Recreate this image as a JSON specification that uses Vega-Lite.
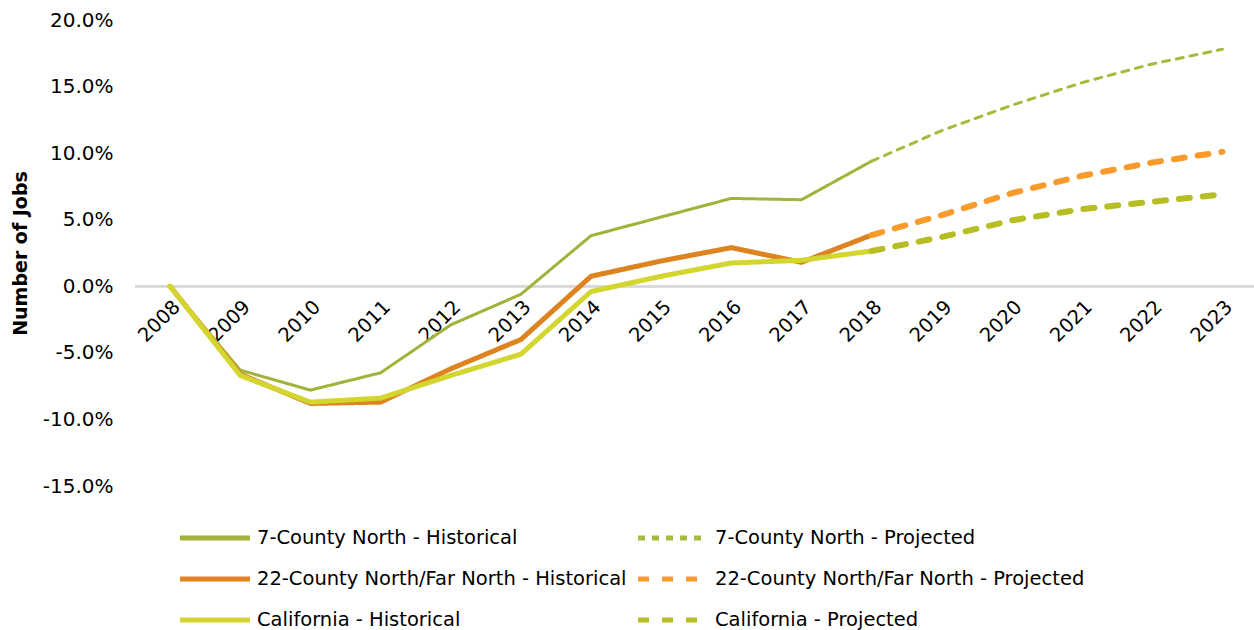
{
  "$schema": "https://vega.github.io/schema/vega-lite/v6.json",
  "width": 1119,
  "height": 466,
  "autosize": "none",
  "padding": {"left": 135, "top": 20, "right": 0, "bottom": 144},
  "background": "white",
  "config": {
    "view": {"stroke": null},
    "font": "DejaVu Sans",
    "axis": {"labelFont": "DejaVu Sans", "titleFont": "DejaVu Sans", "labelColor": "#000000", "titleColor": "#000000"},
    "legend": {"labelFont": "DejaVu Sans", "labelColor": "#000000"}
  },
  "data": {
    "values": [
      {"year": 2008, "value": 0, "series": "7-County North - Historical"},
      {"year": 2009, "value": -0.063, "series": "7-County North - Historical"},
      {"year": 2010, "value": -0.078, "series": "7-County North - Historical"},
      {"year": 2011, "value": -0.065, "series": "7-County North - Historical"},
      {"year": 2012, "value": -0.029, "series": "7-County North - Historical"},
      {"year": 2013, "value": -0.006, "series": "7-County North - Historical"},
      {"year": 2014, "value": 0.038, "series": "7-County North - Historical"},
      {"year": 2015, "value": 0.052, "series": "7-County North - Historical"},
      {"year": 2016, "value": 0.066, "series": "7-County North - Historical"},
      {"year": 2017, "value": 0.065, "series": "7-County North - Historical"},
      {"year": 2018, "value": 0.094, "series": "7-County North - Historical"},
      {"year": 2018, "value": 0.094, "series": "7-County North - Projected"},
      {"year": 2019, "value": 0.117, "series": "7-County North - Projected"},
      {"year": 2020, "value": 0.136, "series": "7-County North - Projected"},
      {"year": 2021, "value": 0.153, "series": "7-County North - Projected"},
      {"year": 2022, "value": 0.167, "series": "7-County North - Projected"},
      {"year": 2023, "value": 0.178, "series": "7-County North - Projected"},
      {"year": 2008, "value": 0, "series": "22-County North/Far North - Historical"},
      {"year": 2009, "value": -0.066, "series": "22-County North/Far North - Historical"},
      {"year": 2010, "value": -0.088, "series": "22-County North/Far North - Historical"},
      {"year": 2011, "value": -0.087, "series": "22-County North/Far North - Historical"},
      {"year": 2012, "value": -0.062, "series": "22-County North/Far North - Historical"},
      {"year": 2013, "value": -0.040, "series": "22-County North/Far North - Historical"},
      {"year": 2014, "value": 0.0075, "series": "22-County North/Far North - Historical"},
      {"year": 2015, "value": 0.019, "series": "22-County North/Far North - Historical"},
      {"year": 2016, "value": 0.029, "series": "22-County North/Far North - Historical"},
      {"year": 2017, "value": 0.018, "series": "22-County North/Far North - Historical"},
      {"year": 2018, "value": 0.0385, "series": "22-County North/Far North - Historical"},
      {"year": 2018, "value": 0.0385, "series": "22-County North/Far North - Projected"},
      {"year": 2019, "value": 0.0535, "series": "22-County North/Far North - Projected"},
      {"year": 2020, "value": 0.070, "series": "22-County North/Far North - Projected"},
      {"year": 2021, "value": 0.083, "series": "22-County North/Far North - Projected"},
      {"year": 2022, "value": 0.093, "series": "22-County North/Far North - Projected"},
      {"year": 2023, "value": 0.101, "series": "22-County North/Far North - Projected"},
      {"year": 2008, "value": 0, "series": "California - Historical"},
      {"year": 2009, "value": -0.067, "series": "California - Historical"},
      {"year": 2010, "value": -0.087, "series": "California - Historical"},
      {"year": 2011, "value": -0.084, "series": "California - Historical"},
      {"year": 2012, "value": -0.067, "series": "California - Historical"},
      {"year": 2013, "value": -0.051, "series": "California - Historical"},
      {"year": 2014, "value": -0.004, "series": "California - Historical"},
      {"year": 2015, "value": 0.0075, "series": "California - Historical"},
      {"year": 2016, "value": 0.0175, "series": "California - Historical"},
      {"year": 2017, "value": 0.0195, "series": "California - Historical"},
      {"year": 2018, "value": 0.0265, "series": "California - Historical"},
      {"year": 2018, "value": 0.0265, "series": "California - Projected"},
      {"year": 2019, "value": 0.037, "series": "California - Projected"},
      {"year": 2020, "value": 0.0495, "series": "California - Projected"},
      {"year": 2021, "value": 0.058, "series": "California - Projected"},
      {"year": 2022, "value": 0.0635, "series": "California - Projected"},
      {"year": 2023, "value": 0.069, "series": "California - Projected"}
    ]
  },
  "layer": [
    {
      "mark": {"type": "rule", "color": "#D9D9D9", "strokeWidth": 2},
      "encoding": {"y": {"datum": 0, "type": "quantitative"}}
    },
    {
      "encoding": {
        "x": {
          "field": "year",
          "type": "quantitative",
          "scale": {"domain": [2007.5, 2023.45], "nice": false, "zero": false},
          "axis": {
            "values": [2008, 2009, 2010, 2011, 2012, 2013, 2014, 2015, 2016, 2017, 2018, 2019, 2020, 2021, 2022, 2023],
            "format": "d",
            "title": null,
            "domain": false,
            "ticks": false,
            "grid": false,
            "labelAngle": -45,
            "labelFontSize": 19.5,
            "labelPadding": 11,
            "offset": -200,
            "labelOverlap": false,
            "labelBound": false,
            "labelFlush": false
          }
        },
        "y": {
          "field": "value",
          "type": "quantitative",
          "scale": {"domain": [-0.15, 0.20], "nice": false},
          "axis": {
            "values": [-0.15, -0.10, -0.05, 0, 0.05, 0.10, 0.15, 0.20],
            "labelExpr": "replace(format(datum.value, '.1%'), '\u2212', '-')",
            "title": "Number of Jobs",
            "titleFontSize": 19,
            "titleFontWeight": "bold",
            "titleX": -115,
            "titleBaseline": "middle",
            "domain": false,
            "ticks": false,
            "grid": false,
            "labelFontSize": 20,
            "labelPadding": 22,
            "labelOverlap": false,
            "labelFlush": false
          }
        },
        "color": {
          "field": "series",
          "type": "nominal",
          "scale": {
            "domain": ["7-County North - Historical", "22-County North/Far North - Historical", "California - Historical", "7-County North - Projected", "22-County North/Far North - Projected", "California - Projected"],
            "range": ["#A2B23A", "#DD8420", "#D2D62E", "#A8B93B", "#F99B2C", "#B6BE24"]
          },
          "legend": {
            "title": null,
            "orient": "none",
            "legendX": 42,
            "legendY": 498,
            "columns": 2,
            "columnPadding": 1,
            "rowPadding": 11,
            "symbolType": "M-2,0H2",
            "symbolSize": 1225,
            "symbolStrokeWidth": 5,
            "symbolOffset": 18,
            "labelFontSize": 19.5,
            "labelOffset": 22,
            "labelLimit": 0
          }
        },
        "strokeDash": {
          "field": "series",
          "type": "nominal",
          "scale": {
            "domain": ["7-County North - Historical", "22-County North/Far North - Historical", "California - Historical", "7-County North - Projected", "22-County North/Far North - Projected", "California - Projected"],
            "range": [[1, 0], [1, 0], [1, 0], [7, 7], [11, 13], [11, 13]]
          },
          "legend": null
        }
      },
      "layer": [
        {
          "transform": [{"filter": "indexof(datum.series, '7-County') >= 0"}],
          "mark": {"type": "line", "strokeCap": "round", "strokeJoin": "round", "strokeWidth": 3, "clip": false}
        },
        {
          "transform": [{"filter": "indexof(datum.series, '7-County') < 0 && indexof(datum.series, 'Historical') >= 0"}],
          "mark": {"type": "line", "strokeCap": "round", "strokeJoin": "round", "strokeWidth": 5, "clip": false}
        },
        {
          "transform": [{"filter": "indexof(datum.series, '7-County') < 0 && indexof(datum.series, 'Projected') >= 0"}],
          "mark": {"type": "line", "strokeCap": "round", "strokeJoin": "round", "strokeWidth": 6, "clip": false}
        }
      ]
    }
  ]
}
